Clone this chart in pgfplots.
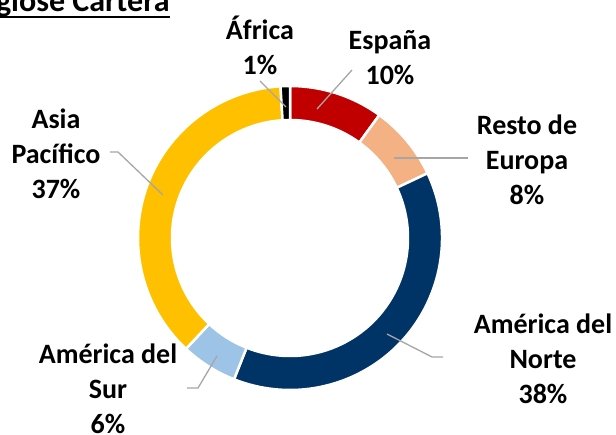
\documentclass[border=0pt]{standalone}
\usepackage{fontspec}
\setmainfont{Carlito}
\usepackage{pgfplots}
\usepackage{pgfplotstable}
\pgfplotsset{compat=1.18}

\definecolor{espana}{HTML}{C00000}
\definecolor{resto}{HTML}{F4B183}
\definecolor{norte}{HTML}{003366}
\definecolor{sur}{HTML}{9DC3E6}
\definecolor{asia}{HTML}{FFC000}
\definecolor{africa}{HTML}{000000}
\definecolor{leadergray}{HTML}{A6A6A6}

% share of the portfolio, clockwise from 12 o'clock
\pgfplotstableread{
region value color
Espana 10 espana
Resto 8 resto
Norte 38 norte
Sur 6 sur
Asia 37 asia
Africa 1 africa
}\sharedata

\begin{document}
\begin{tikzpicture}[
  lbl/.style={font=\fontsize{28bp}{35bp}\selectfont\bfseries, align=center, inner sep=0pt},
  leader/.style={draw=leadergray, line width=1.3bp}]
\begin{axis}[
  x=1bp, y=1bp,
  xmin=0, xmax=616, ymin=0, ymax=435,
  hide axis, clip=false]

\def\cumval{0}
\pgfplotsforeachungrouped \i in {0,...,5}{%
  \pgfplotstablegetelem{\i}{value}\of\sharedata \let\segval\pgfplotsretval
  \pgfplotstablegetelem{\i}{color}\of\sharedata \let\segcol\pgfplotsretval
  \pgfmathsetmacro\angA{90-3.6*\cumval}
  \pgfmathsetmacro\angB{90-3.6*(\cumval+\segval)}
  \pgfmathsetmacro\cumval{\cumval+\segval}
  \edef\cmd{\noexpand\filldraw[fill=\segcol, draw=white, line width=2.5bp]
    (axis cs:290,197) ++(\angA:152bp)
    arc[start angle=\angA, end angle=\angB, radius=152bp]
    -- ++(\angB:-34bp)
    arc[start angle=\angB, end angle=\angA, radius=118bp] -- cycle;}%
  \cmd
}

% leader lines
\draw[leader] (axis cs:260,354) -- (axis cs:286,328);
\draw[leader] (axis cs:352,365) -- (axis cs:317,326);
\draw[leader] (axis cs:394,277) -- (axis cs:468,277);
\draw[leader] (axis cs:387,101) -- (axis cs:432,78) -- (axis cs:443,78);
\draw[leader] (axis cs:217,79) -- (axis cs:198,47) -- (axis cs:187,47);
\draw[leader] (axis cs:110,283) -- (axis cs:118,283) -- (axis cs:163,240);

% labels
\node[lbl] at (axis cs:260,390) {África\\1\%};
\node[lbl] at (axis cs:390,377) {España\\10\%};
\node[lbl] at (axis cs:527,275) {Resto de\\Europa\\8\%};
\node[lbl] at (axis cs:543,76) {América del\\Norte\\38\%};
\node[lbl] at (axis cs:108,46) {América del\\Sur\\6\%};
\node[lbl] at (axis cs:56,281) {Asia\\Pacífico\\37\%};

% title, partly outside the visible area
\node[anchor=base east, inner sep=0pt, font=\fontsize{32bp}{38bp}\selectfont\bfseries]
  (title) at (axis cs:170,423) {Desglose Cartera};
\draw[line width=2bp] ([yshift=-5bp]title.base west) -- ([yshift=-5bp]title.base east);
\end{axis}
\pgfresetboundingbox
\useasboundingbox (0,0) rectangle (616bp,435bp);
\end{tikzpicture}
\end{document}
